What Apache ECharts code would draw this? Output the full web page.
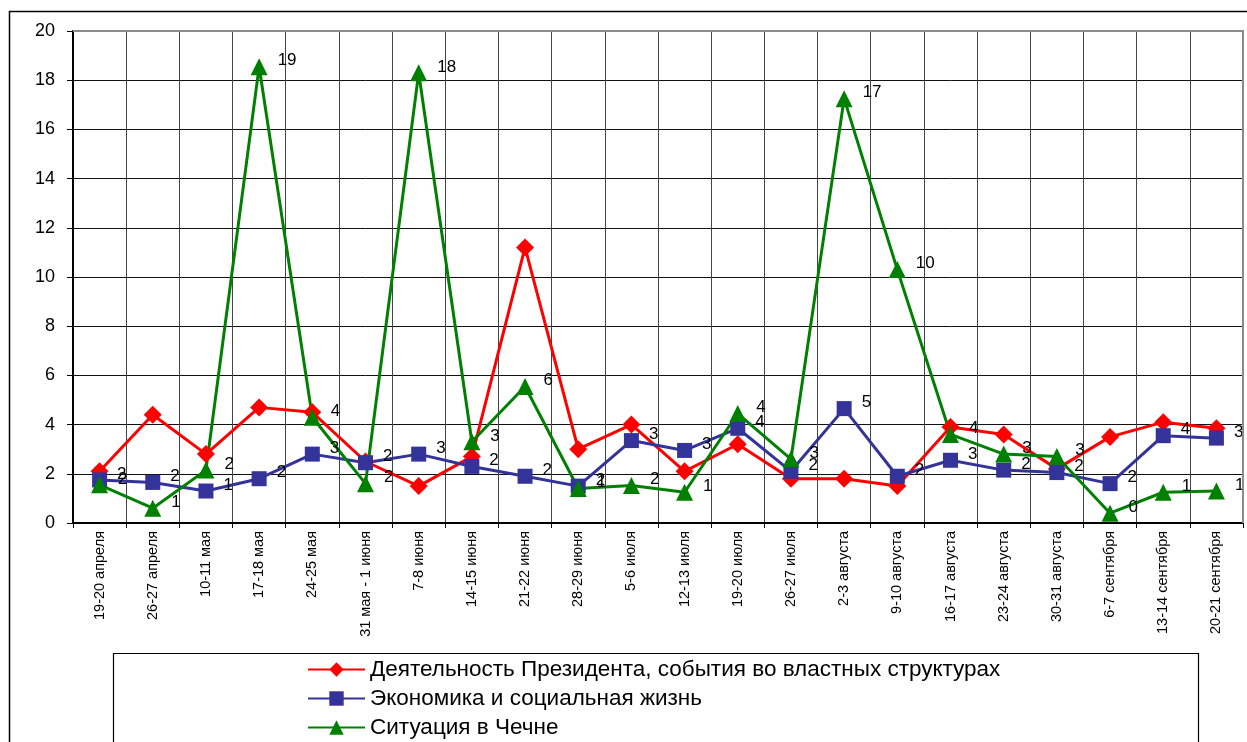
<!DOCTYPE html>
<html>
<head>
<meta charset="utf-8">
<script src="https://cdn.jsdelivr.net/npm/echarts@6/dist/echarts.min.js"></script>
<style>
  html, body { margin: 0; padding: 0; background: #fff; }
  #chart { width: 1247px; height: 742px; }
</style>
</head>
<body>
<div id="chart"></div>
<script>
  // недели
  var categories = [
    '19-20 апреля', '26-27 апреля', '10-11 мая', '17-18 мая', '24-25 мая',
    '31 мая - 1 июня', '7-8 июня', '14-15 июня', '21-22 июня', '28-29 июня',
    '5-6 июля', '12-13 июля', '19-20 июля', '26-27 июля', '2-3 августа',
    '9-10 августа', '16-17 августа', '23-24 августа', '30-31 августа',
    '6-7 сентября', '13-14 сентября', '20-21 сентября'
  ];

  var seriesNames = [
    'Деятельность Президента, события во властных структурах',
    'Экономика и социальная жизнь',
    'Ситуация в Чечне'
  ];

  var president = [2.1, 4.4, 2.8, 4.7, 4.5, 2.5, 1.5, 2.7, 11.2, 3.0, 4.0, 2.1, 3.2, 1.8, 1.8, 1.5, 3.9, 3.6, 2.2, 3.5, 4.1, 3.85];
  var economy = [1.75, 1.65, 1.3, 1.8, 2.8, 2.45, 2.8, 2.3, 1.9, 1.5, 3.35, 2.95, 3.85, 2.1, 4.65, 1.9, 2.55, 2.15, 2.05, 1.6, 3.55, 3.45];
  var chechnya = [1.55, 0.6, 2.15, 18.55, 4.3, 1.6, 18.3, 3.3, 5.55, 1.4, 1.52, 1.25, 4.45, 2.6, 17.25, 10.3, 3.6, 2.8, 2.7, 0.4, 1.25, 1.3];

  var yTicks = [0, 20, 2]; // min, max, interval

  var font = 'Arial, "Liberation Sans", sans-serif';

  var myChart = echarts.init(document.getElementById('chart'), null, {renderer: 'canvas'});

  var pointLabel = {
    show: true,
    position: 'right',
    distance: 10,
    offset: [0, -6],
    color: '#000',
    fontSize: 17,
    fontFamily: font,
    formatter: function (p) { return Math.round(p.value); }
  };

  var option = {
    animation: false,
    backgroundColor: '#fff',
    textStyle: {fontFamily: font},
    grid: {
      left: 73,
      right: 4,
      top: 31,
      bottom: 219,
      containLabel: false
    },
    legend: {
      orient: 'vertical',
      left: 307,
      top: 658,
      height: 120,
      padding: 0,
      itemGap: 6,
      itemWidth: 57,
      itemHeight: 18,
      textStyle: {fontSize: 22.5, color: '#000', fontFamily: font},
      data: seriesNames
    },
    xAxis: {
      type: 'category',
      data: categories,
      boundaryGap: true,
      axisLine: {lineStyle: {color: '#000', width: 2}},
      axisTick: {show: true, length: 5, lineStyle: {color: '#000'}},
      splitLine: {show: true, lineStyle: {color: '#444', width: 1}},
      axisLabel: {
        rotate: 90,
        interval: 0,
        margin: 8,
        color: '#000',
        fontSize: 14.5,
        fontFamily: font
      }
    },
    yAxis: {
      type: 'value',
      min: yTicks[0],
      max: yTicks[1],
      interval: yTicks[2],
      axisLine: {show: true, lineStyle: {color: '#000', width: 2}},
      axisTick: {show: true, length: 6, lineStyle: {color: '#000'}},
      splitLine: {show: true, lineStyle: {color: '#111', width: 1}},
      axisLabel: {
        margin: 18,
        color: '#000',
        fontSize: 18,
        fontFamily: font
      }
    },
    graphic: [
      // рамка всей диаграммы
      {
        type: 'rect',
        shape: {x: 9.5, y: 11.5, width: 1260, height: 760},
        style: {fill: 'none', stroke: '#000', lineWidth: 1.5},
        silent: true
      },
      // рамка области построения (серая сверху и справа)
      {
        type: 'polyline',
        shape: {points: [[73, 31], [1243, 31], [1243, 523]]},
        style: {fill: 'none', stroke: '#8c8c8c', lineWidth: 2},
        z: 50,
        silent: true
      },
      // рамка легенды
      {
        type: 'rect',
        shape: {x: 113.5, y: 653.5, width: 1085, height: 120},
        style: {fill: 'none', stroke: '#000', lineWidth: 1.2},
        silent: true
      }
    ],
    series: [
      {
        name: seriesNames[0],
        type: 'line',
        data: president,
        symbol: 'diamond',
        symbolSize: 18,
        color: '#ff0000',
        lineStyle: {width: 3, color: '#ff0000'},
        itemStyle: {color: '#ff0000'}
      },
      {
        name: seriesNames[1],
        type: 'line',
        data: economy,
        symbol: 'rect',
        symbolSize: 15,
        color: '#333399',
        lineStyle: {width: 3, color: '#333399'},
        itemStyle: {color: '#333399'},
        label: pointLabel
      },
      {
        name: seriesNames[2],
        type: 'line',
        data: chechnya,
        symbol: 'triangle',
        symbolSize: 17,
        color: '#008000',
        lineStyle: {width: 3, color: '#008000'},
        itemStyle: {color: '#008000'},
        label: pointLabel
      }
    ]
  };

  myChart.setOption(option);
</script>
</body>
</html>
